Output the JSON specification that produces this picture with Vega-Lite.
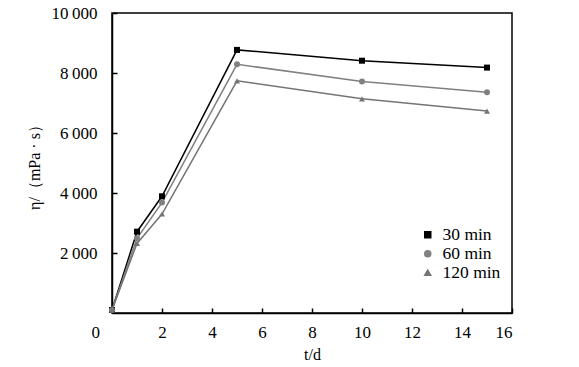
{
  "$schema": "https://vega.github.io/schema/vega-lite/v6.json",
  "width": 400,
  "height": 300,
  "autosize": "none",
  "padding": {"left": 112, "top": 13, "right": 67, "bottom": 54},
  "background": "white",
  "config": {
    "font": "Liberation Serif",
    "view": {"stroke": "black", "strokeWidth": 1.5},
    "axis": {
      "grid": false,
      "domainColor": "black",
      "domainWidth": 1.5,
      "tickColor": "black",
      "tickWidth": 1.5,
      "tickSize": -5,
      "labelFont": "Liberation Serif",
      "labelFontSize": 17,
      "labelColor": "black",
      "titleFont": "Liberation Serif",
      "titleFontSize": 16,
      "titleFontWeight": "normal",
      "titleColor": "black"
    },
    "legend": {
      "labelFont": "Liberation Serif",
      "labelFontSize": 17.5,
      "labelColor": "black"
    }
  },
  "data": {
    "values": [
      {"t": 0, "v": 100, "s": "30 min"},
      {"t": 1, "v": 2710, "s": "30 min"},
      {"t": 2, "v": 3890, "s": "30 min"},
      {"t": 5, "v": 8770, "s": "30 min"},
      {"t": 10, "v": 8410, "s": "30 min"},
      {"t": 15, "v": 8180, "s": "30 min"},
      {"t": 0, "v": 100, "s": "60 min"},
      {"t": 1, "v": 2490, "s": "60 min"},
      {"t": 2, "v": 3680, "s": "60 min"},
      {"t": 5, "v": 8290, "s": "60 min"},
      {"t": 10, "v": 7720, "s": "60 min"},
      {"t": 15, "v": 7360, "s": "60 min"},
      {"t": 0, "v": 100, "s": "120 min"},
      {"t": 1, "v": 2320, "s": "120 min"},
      {"t": 2, "v": 3300, "s": "120 min"},
      {"t": 5, "v": 7740, "s": "120 min"},
      {"t": 10, "v": 7140, "s": "120 min"},
      {"t": 15, "v": 6730, "s": "120 min"}
    ]
  },
  "encoding": {
    "x": {
      "field": "t",
      "type": "quantitative",
      "scale": {"domain": [0, 16], "nice": false},
      "axis": {
        "title": "t/d",
        "values": [0, 2, 4, 6, 8, 10, 12, 14, 16],
        "labelPadding": 16,
        "titlePadding": 6,
        "labelOffset": {"condition": {"test": "datum.value === 0", "value": -21}, "value": 0}
      }
    },
    "y": {
      "field": "v",
      "type": "quantitative",
      "scale": {"domain": [0, 10000], "nice": false},
      "axis": {
        "title": "η/（mPa · s）",
        "values": [2000, 4000, 6000, 8000, 10000],
        "labelExpr": "replace(format(datum.value, ','), ',', '\u2009')",
        "labelPadding": 20,
        "titlePadding": 9
      }
    },
    "color": {
      "field": "s",
      "type": "nominal",
      "scale": {"domain": ["30 min", "60 min", "120 min"], "range": ["#000000", "#808080", "#747474"]},
      "legend": {
        "title": null,
        "orient": "none",
        "legendX": 307,
        "legendY": 213,
        "padding": 0,
        "rowPadding": 0,
        "symbolSize": 36,
        "labelOffset": 6,
        "labelExpr": "datum.label == '120 min' ? datum.label : '\u2007' + datum.label"
      }
    }
  },
  "layer": [
    {
      "mark": {"type": "line", "strokeWidth": 1.5}
    },
    {
      "mark": {"type": "point", "filled": true, "opacity": 1, "size": 36},
      "encoding": {
        "shape": {
          "field": "s",
          "type": "nominal",
          "scale": {"domain": ["30 min", "60 min", "120 min"], "range": ["square", "circle", "triangle-up"]},
          "legend": {
            "title": null,
            "orient": "none",
            "legendX": 307,
            "legendY": 213,
            "padding": 0,
            "rowPadding": 0,
            "symbolSize": 36,
            "labelOffset": 6,
            "labelExpr": "datum.label == '120 min' ? datum.label : '\u2007' + datum.label"
          }
        }
      }
    }
  ]
}
